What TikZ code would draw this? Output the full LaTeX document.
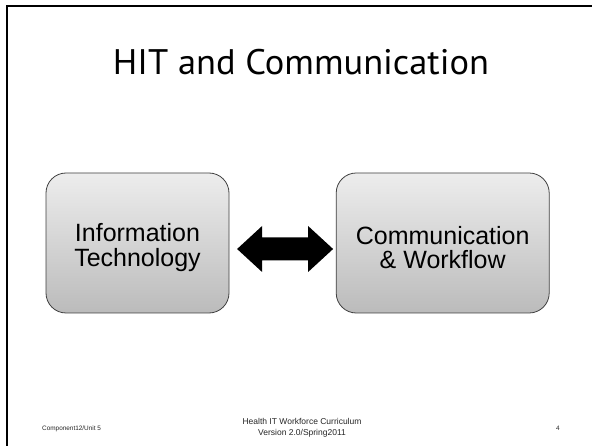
\documentclass[tikz,border=0pt]{standalone}
\usepackage{fontspec}
\setmainfont{Liberation Sans}
\newfontfamily\titlefont{PT Sans}
\usetikzlibrary{calc}
\definecolor{boxtop}{HTML}{EDEDED}
\definecolor{boxbot}{HTML}{BBBBBB}
\definecolor{boxline}{HTML}{404040}
\tikzset{
  topicbox/.style={draw=boxline, line width=0.8pt, rounded corners=20pt,
    top color=boxtop, bottom color=boxbot, minimum height=140pt},
  topictext/.style={align=center, font=\fontsize{25}{24.3}\selectfont,
    text=black, yshift=-4.5pt},
  footnote/.style={font=\fontsize{6.4}{8}\selectfont, text=black!85},
  framerule/.style={line width=2pt, black}
}
\begin{document}
\begin{tikzpicture}[x=1pt, y=-1pt]
\useasboundingbox (0,0) rectangle (592,446);
\fill[white] (0,0) rectangle (592,446);
% slide frame
\coordinate (ftl) at (6.5,6.5);
\coordinate (ftr) at (592,6.5);
\coordinate (fbl) at (6.5,446);
\draw[framerule] (ftr) -- (ftl) -- (fbl);
% title
\node[anchor=base, inner sep=0pt] (title) at (301,74.3)
  {\titlefont\fontsize{35.5}{40}\selectfont\resizebox{376pt}{\height}{HIT and Communication}};
% the two topics
\node[topicbox, minimum width=183pt,
      label={[topictext]center:{Information\\Technology}}] (it) at (137.5,243) {};
\node[topicbox, minimum width=213pt,
      label={[topictext]center:{Communication\\\& Workflow}}] (cw) at (442.7,243) {};
% two-way link between them
\coordinate (link) at ($(it.east)!0.5!(cw.west)+(2.5,6)$);
\fill[black] ($(link)+(-48,0)$) -- ++(25,-23) -- ++(0,11.5) -- ++(46,0) -- ++(0,-11.5)
  -- ($(link)+(48,0)$) -- ++(-25,23) -- ++(0,-11.5) -- ++(-46,0) -- ++(0,11.5) -- cycle;
% footer
\node[footnote, anchor=west, inner sep=0pt] (comp) at (42,428.5) {Component12/Unit 5};
\node[font=\fontsize{8.5}{11.5}\selectfont, text=black!85, align=center] (curr) at (302,428)
  {Health IT Workforce Curriculum\\Version 2.0/Spring2011};
\node[footnote] (page) at (558,428.5) {4};
\end{tikzpicture}
\end{document}
